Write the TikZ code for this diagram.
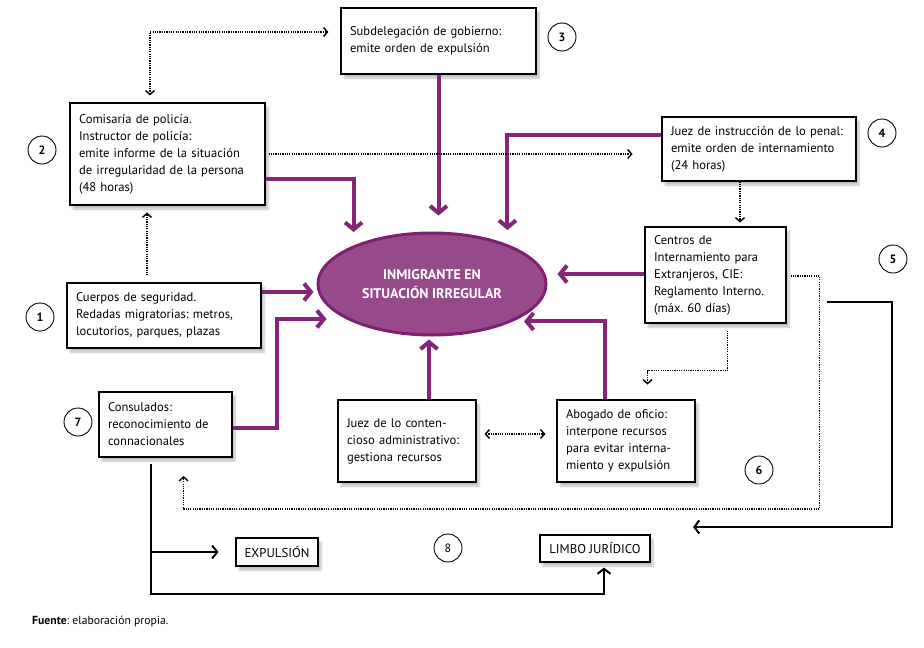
\documentclass[tikz,border=0pt]{standalone}
\usepackage{fontspec}
\setmainfont{PT Sans}
\usetikzlibrary{arrows.meta,shapes.geometric,shadows.blur}
\definecolor{pline}{HTML}{86247A}
\definecolor{ellfill}{HTML}{964A8A}
\definecolor{ellborder}{HTML}{7E1F71}
\frenchspacing
\begin{document}
\begin{tikzpicture}[x=1pt,y=-1pt,
  box/.style={draw=black, line width=1.1pt, fill=white, inner xsep=9pt, inner ysep=3pt, align=left,
    font=\fontsize{12.6}{17}\selectfont,
    blur shadow={shadow blur steps=6, shadow xshift=3pt, shadow yshift=-4pt, shadow opacity=25}},
  lbox/.style={draw=black, line width=1.1pt, fill=white, inner sep=2pt, align=center,
    font=\fontsize{12.8}{14}\selectfont,
    blur shadow={shadow blur steps=6, shadow xshift=3pt, shadow yshift=-4pt, shadow opacity=25}},
  num/.style={circle, draw=black, line width=0.9pt, minimum size=28pt, inner sep=0pt, font=\fontsize{12}{12}\selectfont\bfseries},
  parrow/.style={draw=pline, line width=4pt, -{Straight Barb[length=7pt,width=17pt]}},
  darrow/.style={draw=black, line width=1.4pt, dash pattern=on 1.2pt off 1.1pt, -{Straight Barb[length=4pt,width=9pt]}},
  ddarrow/.style={draw=black, line width=1.4pt, dash pattern=on 1.2pt off 1.1pt, {Straight Barb[length=4pt,width=9pt]}-{Straight Barb[length=4pt,width=9pt]}},
  barrow/.style={draw=black, line width=2pt, -{Straight Barb[length=5pt,width=13pt]}}]
\useasboundingbox (0,0) rectangle (924,648);

% ellipse
\node[ellipse, draw=ellborder, line width=3pt, fill=ellfill, minimum width=228pt, minimum height=102pt,
  text=white, align=center, font=\fontsize{14}{19}\selectfont\bfseries] (ell) at (432,284)
  {INMIGRANTE EN\\SITUACIÓN IRREGULAR};

% boxes
\node[box, minimum width=195pt, minimum height=66pt, text width=177pt] (sub) at (438.5,41)
  {Subdelegación de gobierno:\\emite orden de expulsión};
\node[box, minimum width=195pt, minimum height=102pt, text width=177pt] (com) at (167.5,154)
  {Comisaría de policía.\\Instructor de policía:\\emite informe de la situación\\de irregularidad de la persona\\(48 horas)};
\node[box, minimum width=194pt, minimum height=64pt, text width=176pt] (jins) at (759,149)
  {Juez de instrucción de lo penal:\\emite orden de internamiento\\(24 horas)};
\node[box, minimum width=141pt, minimum height=96pt, text width=123pt] (cie) at (715.5,275)
  {Centros de\\Internamiento para\\Extranjeros, CIE:\\Reglamento Interno.\\(máx. 60 días)};
\node[box, minimum width=194pt, minimum height=65pt, text width=176pt] (cue) at (164,315.5)
  {Cuerpos de seguridad.\\Redadas migratorias: metros,\\locutorios, parques, plazas};
\node[box, minimum width=133pt, minimum height=65pt, text width=115pt] (con) at (165.5,424.5)
  {Consulados:\\reconocimiento de\\connacionales};
\node[box, minimum width=138pt, minimum height=82pt, text width=120pt] (jca) at (407,441)
  {Juez de lo conten-\\cioso administrativo:\\gestiona recursos};
\node[box, minimum width=138pt, minimum height=82pt, text width=120pt] (abo) at (626,441)
  {Abogado de oficio:\\interpone recursos\\para evitar interna-\\miento y expulsión};
\node[lbox, minimum width=82pt, minimum height=28pt] (exp) at (277,552) {EXPULSIÓN};
\node[lbox, minimum width=110pt, minimum height=27pt] (limbo) at (595,548.5) {LIMBO JURÍDICO};

% numbers
\node[num] (n1) at (40,317) {1};
\node[num] (n2) at (42,150) {2};
\node[num] (n3) at (562,37) {3};
\node[num] (n4) at (882,133) {4};
\node[num] (n5) at (893,259) {5};
\node[num] (n6) at (759,470) {6};
\node[num] (n7) at (78,422) {7};
\node[num, font=\fontsize{12}{12}\selectfont] (n8) at (448,548) {8};

% source
\node[anchor=west, inner sep=0pt, font=\fontsize{11.7}{13}\selectfont] (src) at (32,621)
  {\textbf{Fuente}: elaboración propia.};

% purple arrows
\draw[parrow] (sub.south) -- ++(0,141);
\draw[parrow] ([yshift=-25pt]com.east) -| ++(88,53);
\draw[parrow] ([yshift=14pt]jins.west) -| ++(-154,95);
\draw[parrow] ([yshift=1pt]cie.west) -- ++(-87,0);
\draw[parrow] ([xshift=-21pt]abo.north) |- ++(-81,-78);
\draw[parrow] ([xshift=22pt]jca.north) -- ++(0,-60);
\draw[parrow] ([yshift=23.5pt]cue.east) -- ++(52,0);
\draw[parrow] ([yshift=-3.5pt]con.east) -- ++(44,0) |- ++(50,-109);

% dotted arrows
\draw[ddarrow] ([xshift=-17.5pt,yshift=7pt]com.north) |- ([xshift=-12pt,yshift=9pt]sub.west);
\draw[darrow] ([xshift=-17pt,yshift=7pt]cue.north) -- ++(0,-63);
\draw[darrow] ([xshift=3pt]com.east) -- ++(364,0);
\draw[darrow] ([xshift=-19pt]jins.south) -- ++(0,41);
\draw[darrow] ([xshift=12pt,yshift=-7pt]cie.south) -- ++(0,40) -| ++(-80,14);
\draw[darrow] ([xshift=4pt,yshift=-1pt]cie.east) -- ++(29,0) -- ++(0,233) -| ++(-636,-33);
\draw[ddarrow] ([xshift=8pt,yshift=7pt]jca.east) -- ([xshift=-11pt,yshift=7pt]abo.west);

% black solid arrows
\coordinate (c5) at (827,302);
\draw[barrow] (c5) -- ++(65,0) |- ++(-199,225);
\coordinate (cb) at ([xshift=-14.5pt,yshift=-6pt]con.south);
\draw[barrow] (cb) -- ++(0,130) -| ([xshift=9pt,yshift=-5pt]limbo.south);
\draw[barrow] (cb |- exp.west) -- ([xshift=-17pt]exp.west);
\end{tikzpicture}
\end{document}
